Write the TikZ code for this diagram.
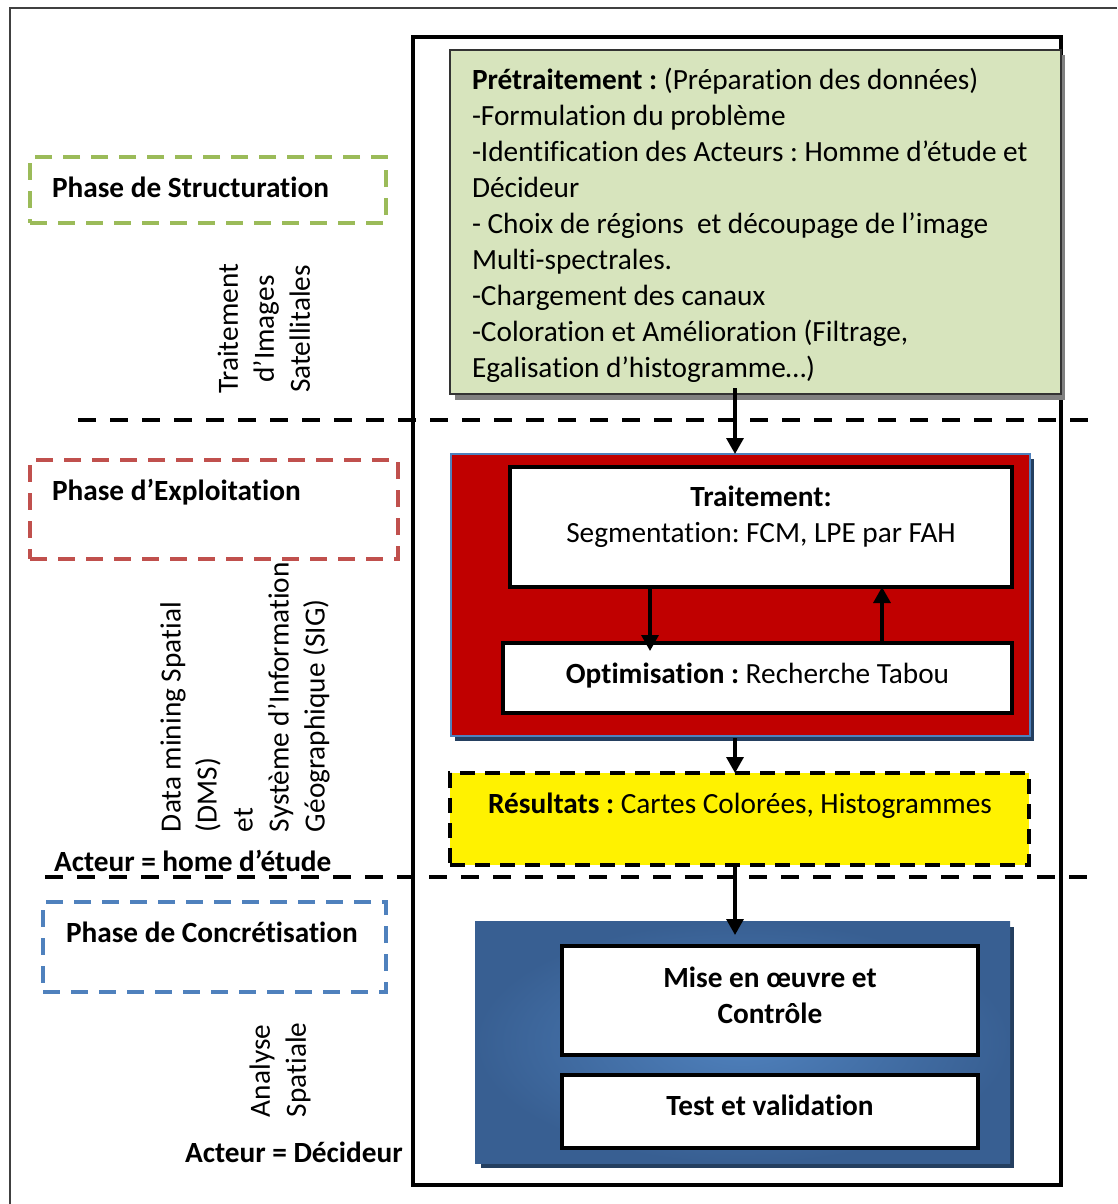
\documentclass[tikz,border=0pt]{standalone}
\usepackage{fontspec}
\setmainfont{Carlito}[Ligatures={NoCommon}]
\usetikzlibrary{arrows.meta}
\frenchspacing

\definecolor{prefill}{HTML}{D7E4BD}
\definecolor{stgreen}{HTML}{9BBB59}
\definecolor{exred}{HTML}{C0504D}
\definecolor{coblue}{HTML}{4F81BD}
\definecolor{darkred}{HTML}{C00000}
\definecolor{navy}{HTML}{243F60}
\definecolor{midblue}{HTML}{4F81BD}
\definecolor{edgeblue}{HTML}{385F92}
\definecolor{shadegray}{HTML}{808080}

\tikzset{
  every node/.style={font=\fontsize{29.3}{36}\selectfont, inner sep=0pt, outer sep=0pt},
  plainbox/.style={draw, anchor=north west},
  whitebox/.style={draw=black, fill=white, line width=4pt, anchor=north west},
  phasebox/.style={draw, line width=3.2pt, dash pattern=on 17pt off 11pt, anchor=north west},
  divider/.style={line width=4pt, dash pattern=on 18pt off 14pt},
  arr/.style={line width=3.3pt, -{Triangle[length=16pt,width=17pt]}},
  shadowbox/.style={anchor=north west},
}

\begin{document}
\begin{tikzpicture}[x=1pt,y=-1pt]
\useasboundingbox (0,0) rectangle (1117,1204);

% outer page frame (only top and left edges fall inside the picture)
\draw[black!75, line width=2pt] (10,1210) -- (10,8) -- (1117,8);

% main frame
\node[draw=black, line width=3.5pt, anchor=north west, minimum width=648pt, minimum height=1148pt] (frame) at (413,37) {};

% phase separators
\draw[divider] (78,420) -- (1097,420);
\draw[divider] (45,877) -- (1097,877);

% pre-processing block
\node[shadowbox, fill=shadegray, minimum width=610pt, minimum height=345pt] (greensh) at (455,55) {};
\node[plainbox, draw=black!80, line width=1.5pt, fill=prefill, minimum width=611pt, minimum height=344pt] (green) at (450,50) {};
\node[anchor=north west, align=left] (pre) at (472,63) {\rule{0pt}{26pt}\textbf{Prétraitement :} (Préparation des données)\\
-Formulation du problème\\
-Identification des Acteurs : Homme d’étude et\\
Décideur\\
- Choix de régions\ \ et découpage de l’image\\
Multi-spectrales.\\
-Chargement des canaux\\
-Coloration et Amélioration (Filtrage,\\
Egalisation d’histogramme…)};

% processing block
\node[shadowbox, fill=navy, minimum width=579pt, minimum height=282pt] (redsh) at (455,459) {};
\node[plainbox, draw=coblue, line width=2pt, fill=darkred, minimum width=579pt, minimum height=282pt] (red) at (451,454) {};
\node[whitebox, minimum width=502pt, minimum height=120pt] (trait) at (510,467) {};
\node[anchor=north, align=center] (traitTxt) at (761,480) {\rule{0pt}{26pt}\textbf{Traitement:}\\Segmentation: FCM, LPE par FAH};
\node[whitebox, minimum width=509pt, minimum height=70pt] (opt) at (503,643) {};
\node[anchor=base] (optTxt) at (757.5,683.5) {\textbf{Optimisation :} Recherche Tabou};

% results
\node[plainbox, fill=yellow, draw=black, line width=4pt, dash pattern=on 15pt off 10pt, minimum width=579pt, minimum height=92pt] (res) at (450,773) {};
\node[anchor=base] (resTxt) at (740,813.5) {\textbf{Résultats :} Cartes Colorées, Histogrammes};

% realisation block
\node[shadowbox, fill=navy, minimum width=533pt, minimum height=241pt] (bluesh) at (481,927) {};
\node[anchor=north west, inner color=midblue, outer color=edgeblue, minimum width=535pt, minimum height=242pt] (blue) at (475,921) {};
\node[whitebox, minimum width=416pt, minimum height=109pt] (mise) at (562,946) {};
\node[anchor=north, align=center] (miseTxt) at (770,961.5) {\rule{0pt}{26pt}\textbf{Mise en œuvre et}\\\textbf{Contrôle}};
\node[whitebox, minimum width=416pt, minimum height=73pt] (test) at (562,1075) {};
\node[anchor=base] (testTxt) at (770,1115.5) {\textbf{Test et validation}};

% flow arrows
\coordinate (ax) at (735,0);
\coordinate (dn) at (650,0);
\coordinate (up) at (882,0);
\draw[arr] ([yshift=6pt]green.south -| ax) -- (red.north -| ax);
\draw[arr] (trait.south -| dn) -- ([yshift=-8pt]opt.north -| dn);
\draw[arr] (opt.north -| up) -- (trait.south -| up);
\draw[arr] ([yshift=-2pt]red.south -| ax) -- (res.north -| ax);
\draw[arr] (res.south -| ax) -- ([yshift=-14pt]blue.north -| ax);

% phase labels
\node[phasebox, draw=stgreen, minimum width=356pt, minimum height=66pt] (phS) at (30,157) {};
\node[anchor=base west] (phSTxt) at (52,197.5) {\textbf{Phase de Structuration}};
\node[phasebox, draw=exred, minimum width=368pt, minimum height=99pt] (phE) at (30,460) {};
\node[anchor=base west] (phETxt) at (52,500.5) {\textbf{Phase d’Exploitation}};
\node[phasebox, draw=coblue, minimum width=343pt, minimum height=90pt] (phC) at (43,902) {};
\node[anchor=base west] (phCTxt) at (66,942.5) {\textbf{Phase de Concrétisation}};

% vertical descriptions
\node[rotate=90, align=center, anchor=center] (tis) at (264,329) {Traitement\\d’Images\\Satellitales};
\node[rotate=90, align=left, anchor=west] (dms) at (245,832) {Data mining Spatial\\(DMS)\\et\\Système d’Information\\Géographique (SIG)};
\node[rotate=90, align=left, anchor=west] (asp) at (280,1117) {Analyse\\Spatiale};

% actors
\node[anchor=base west] (actE) at (54,871.5) {\textbf{Acteur = home d’étude}};
\node[anchor=base west] (actD) at (185,1162.5) {\textbf{Acteur = Décideur}};
\end{tikzpicture}
\end{document}
